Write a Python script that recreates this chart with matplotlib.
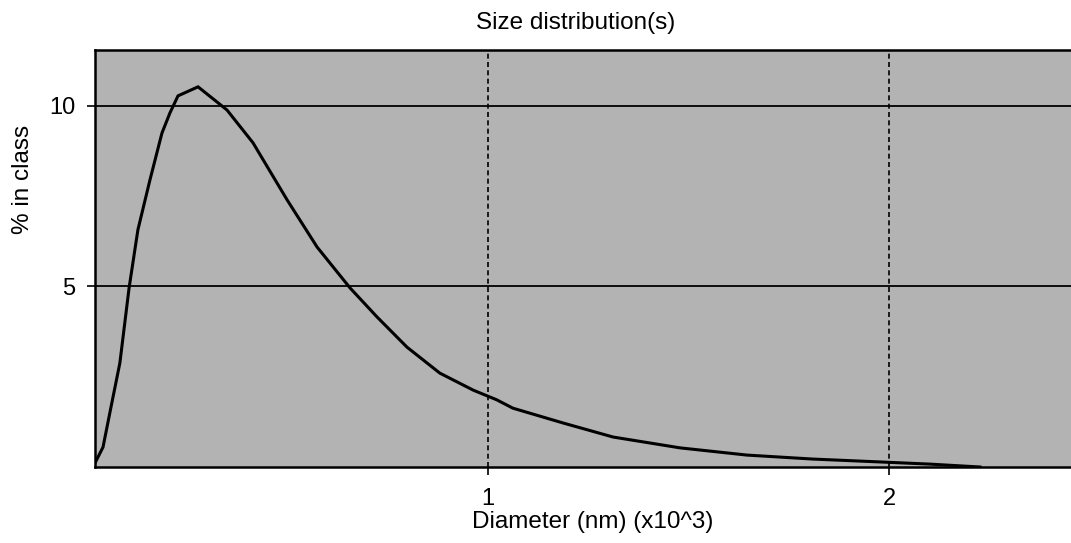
import matplotlib.pyplot as plt

# size distribution curve (diameter in units of 10^3 nm, % in class)
diameter = [0.020, 0.040, 0.057, 0.082, 0.105, 0.127, 0.157, 0.187, 0.207, 0.227,
            0.277, 0.349, 0.414, 0.499, 0.574, 0.656, 0.723, 0.798, 0.880, 0.963,
            1.022, 1.062, 1.187, 1.312, 1.479, 1.646, 1.810, 1.978, 2.102, 2.227]
percent = [0.11, 0.55, 1.50, 2.88, 4.96, 6.57, 7.95, 9.25, 9.81, 10.28,
           10.53, 9.89, 8.98, 7.40, 6.09, 4.96, 4.16, 3.32, 2.60, 2.13,
           1.86, 1.63, 1.22, 0.83, 0.53, 0.33, 0.22, 0.14, 0.08, 0.0]
xticks = [1, 2]
yticks = [5, 10]

plt.rcParams['font.family'] = ['Liberation Sans', 'DejaVu Sans']

fig = plt.figure(figsize=(10.71, 5.43), dpi=100)
ax = fig.add_axes([95/1071, 76/543, 976/1071, 417/543])
ax.set_facecolor('#b3b3b3')

ax.plot(diameter, percent, color='black', lw=2.2, solid_joinstyle='miter')

ax.set_xlim(0.02, 2.454)
ax.set_ylim(0, 11.55)
ax.set_xticks(xticks)
ax.set_xticklabels([str(t) for t in xticks])
ax.set_yticks(yticks)
ax.set_yticklabels([str(t) for t in yticks])
ax.tick_params(axis='both', labelsize=17, length=6, width=1.2, color='black', direction='out')
ax.tick_params(axis='x', pad=9)
ax.tick_params(axis='y', pad=8)

# solid horizontal grid, dashed vertical grid
for y in yticks:
    ax.axhline(y, color='black', lw=1.3, zorder=1)
for x in xticks:
    ax.axvline(x, color='black', lw=1.2, ls=(0, (3, 2)), zorder=1)

for side in ['left', 'bottom', 'top']:
    ax.spines[side].set_linewidth(1.8)
ax.spines['right'].set_visible(False)

ax.set_xlabel('Diameter (nm) (x10^3)', fontsize=17.5)
ax.xaxis.set_label_coords(0.510, -0.105)
ax.set_ylabel('% in class', fontsize=17.5)
ax.yaxis.set_label_coords(-0.062, 0.69)

fig.text(576/1071, 1 - 23/543, 'Size distribution(s)', fontsize=17.5, ha='center', va='center')

fig.savefig('out.png', dpi=100, facecolor='white')
